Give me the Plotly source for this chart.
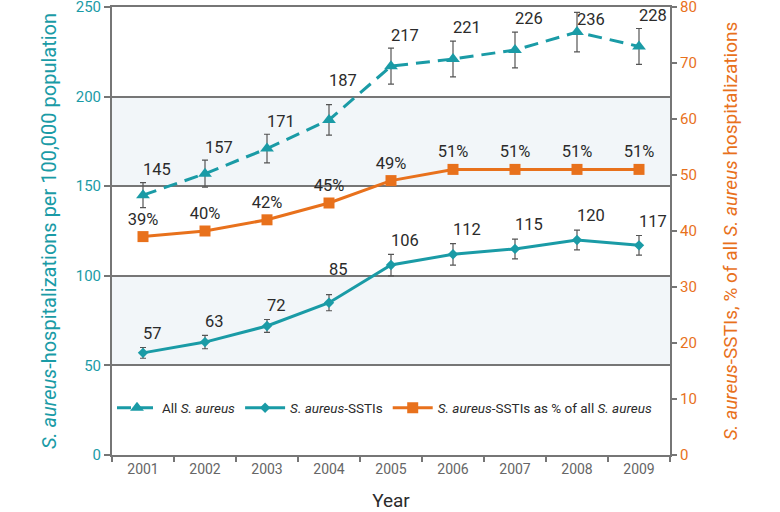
import plotly.graph_objects as go

years = ['2001', '2002', '2003', '2004', '2005', '2006', '2007', '2008', '2009']
all_sa = [145, 157, 171, 187, 217, 221, 226, 236, 228]
all_sa_err = [7, 7.5, 8, 8.5, 10, 10, 10, 11, 10]
sstis = [57, 63, 72, 85, 106, 112, 115, 120, 117]
sstis_err = [3, 3.7, 3.6, 4.5, 6, 6, 5.5, 5.5, 5.5]
sstis_pct = [39, 40, 42, 45, 49, 51, 51, 51, 51]
left_ticks = [0, 50, 100, 150, 200, 250]
right_ticks = [0, 10, 20, 30, 40, 50, 60, 70, 80]
bands = [(50, 100), (150, 200)]

TEAL = '#1a9ba6'
ORANGE = '#e8711c'
GRID = '#767676'
TXT = '#2b2b2b'
FONT = 'Roboto'


def label_heights(vals, errs, base, steep, extra):
    # put the label above the error bar; lift it further when the next segment climbs steeply
    out = []
    for i, (v, e) in enumerate(zip(vals, errs)):
        nxt = vals[i + 1] if i + 1 < len(vals) else v
        out.append(v + e + base + (extra if nxt - v > steep else 0))
    return out


fig = go.Figure()

fig.add_trace(go.Scatter(
    x=years, y=all_sa, name='All <i>S. aureus</i>', mode='lines+markers',
    line=dict(color=TEAL, width=3, dash='14px,8px'),
    marker=dict(symbol='triangle-up', size=12, color=TEAL),
    error_y=dict(type='data', array=all_sa_err, color='#555555', thickness=1.2, width=3),
))
fig.add_trace(go.Scatter(
    x=years, y=sstis, name='<i>S. aureus</i>-SSTIs', mode='lines+markers',
    line=dict(color=TEAL, width=3),
    marker=dict(symbol='diamond', size=8, color=TEAL),
    error_y=dict(type='data', array=sstis_err, color='#555555', thickness=1.2, width=3),
))
fig.add_trace(go.Scatter(
    x=years, y=sstis_pct, name='<i>S. aureus</i>-SSTIs as % of all <i>S. aureus</i>',
    mode='lines+markers+text', yaxis='y2',
    line=dict(color=ORANGE, width=3),
    marker=dict(symbol='square', size=11, color=ORANGE),
    text=[f'{v}%' for v in sstis_pct], textposition='top center',
    textfont=dict(family=FONT, size=16.5, color=TXT),
))

all_lab_y = label_heights(all_sa, all_sa_err, 2, 20, 6)
all_pos = ['bottom right' if v + e > 240 else 'top right' for v, e in zip(all_sa, all_sa_err)]
all_lab_y = [v + e if p == 'bottom right' else y
             for v, e, p, y in zip(all_sa, all_sa_err, all_pos, all_lab_y)]
fig.add_trace(go.Scatter(
    x=years, y=all_lab_y, mode='text', text=[str(v) for v in all_sa],
    textposition=all_pos, textfont=dict(family=FONT, size=16.5, color=TXT),
    showlegend=False, hoverinfo='skip', cliponaxis=False,
))
fig.add_trace(go.Scatter(
    x=years, y=label_heights(sstis, sstis_err, 2.5, 15, 6), mode='text',
    text=[str(v) for v in sstis], textposition='top right',
    textfont=dict(family=FONT, size=16.5, color=TXT),
    showlegend=False, hoverinfo='skip', cliponaxis=False,
))

for lo, hi in bands:
    fig.add_shape(type='rect', xref='paper', yref='y', x0=0, x1=1, y0=lo, y1=hi,
                  fillcolor='#f2f6f9', line_width=0, layer='below')

fig.update_layout(
    width=780, height=512,
    margin=dict(l=112, r=110, t=7, b=57),
    paper_bgcolor='white', plot_bgcolor='white',
    font=dict(family=FONT, size=14, color=TXT),
    showlegend=True,
    legend=dict(orientation='h', x=0.0, y=0.105, xanchor='left', yanchor='middle',
                bgcolor='rgba(0,0,0,0)', font=dict(size=13.5, color=TXT),
                itemwidth=40, tracegroupgap=0),
    xaxis=dict(
        type='category', range=[-0.5, 8.5], tickson='boundaries',
        ticks='outside', ticklen=5, tickcolor=GRID, tickwidth=2,
        showline=True, linecolor=GRID, linewidth=2, mirror=True, showgrid=False,
        tickfont=dict(size=14, color='#666666'), automargin=False,
        title=dict(text='Year', font=dict(size=19, color=TXT), standoff=18),
    ),
    yaxis=dict(
        range=[0, 250], tickvals=left_ticks, ticklabeloverflow='allow',
        ticks='outside', ticklen=6, tickcolor=GRID, tickwidth=2,
        showline=True, linecolor=GRID, linewidth=2,
        showgrid=True, gridcolor=GRID, gridwidth=2, zeroline=False,
        tickfont=dict(size=15, color=TEAL), automargin=False,
        title=dict(text='<i>S. aureus</i>-hospitalizations per 100,000 population',
                   font=dict(size=20, color=TEAL), standoff=14),
    ),
    yaxis2=dict(
        overlaying='y', side='right', range=[0, 80], tickvals=right_ticks,
        ticksuffix='%', ticks='outside', ticklen=5, tickcolor=GRID, tickwidth=2,
        showline=True, linecolor=GRID, linewidth=2, showgrid=False, zeroline=False,
        ticklabeloverflow='allow', automargin=False,
        tickfont=dict(size=15, color=ORANGE),
        title=dict(text='<i>S. aureus</i>-SSTIs, % of all <i>S. aureus</i> hospitalizations',
                   font=dict(size=19, color=ORANGE), standoff=28),
    ),
)

# the default page keeps an 8px body margin; drop it so the chart sits at the corner
fig.write_html('out.html', config={'displayModeBar': False},
               post_script="document.body.style.margin = '0';")
